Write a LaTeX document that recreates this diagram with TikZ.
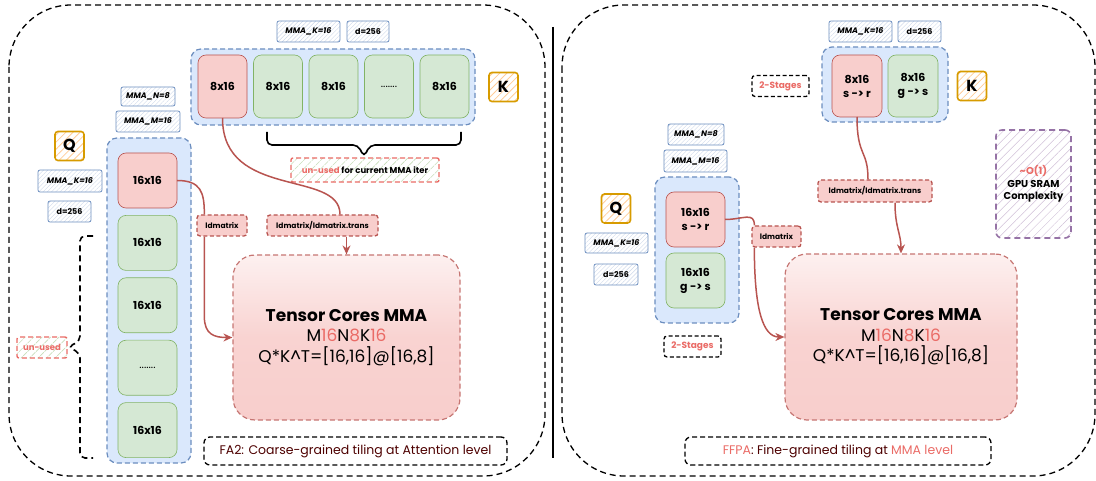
\documentclass[tikz,border=0pt]{standalone}
\usepackage{fontspec}
\setmainfont{Poppins}
\usepackage{tikz}
\usetikzlibrary{arrows.meta,positioning,patterns.meta}
\definecolor{boxblue}{HTML}{DAE8FC}
\definecolor{lineblue}{HTML}{6C8EBF}
\definecolor{cellred}{HTML}{F8CECC}
\definecolor{linered}{HTML}{B85450}
\definecolor{cellgreen}{HTML}{D5E8D4}
\definecolor{linegreen}{HTML}{82B366}
\definecolor{hotred}{HTML}{EA6B66}
\definecolor{labelorange}{HTML}{D79B00}
\definecolor{hatchorange}{HTML}{FFCC99}
\definecolor{linepurple}{HTML}{9673A6}
\definecolor{darkmaroon}{HTML}{4D0000}
\tikzstyle{panel}=[dash pattern=on 6pt off 4pt,line width=1.3pt,rounded corners=62pt]
\tikzstyle{container}=[rectangle,rounded corners=10pt,fill=boxblue,draw=lineblue,
                  dash pattern=on 5pt off 3pt,line width=1.2pt]
\tikzstyle{tile}=[rectangle,rounded corners=8pt,line width=0.6pt,inner sep=0pt,outer sep=0pt,
                  align=center,font=\bfseries\fontsize{11}{14}\selectfont]
\tikzstyle{tilered}=[tile,fill=cellred,draw=linered]
\tikzstyle{tilegreen}=[tile,fill=cellgreen,draw=linegreen]
\tikzstyle{ksize}=[minimum width=49pt,minimum height=63pt]
\tikzstyle{qsize}=[minimum width=59pt,minimum height=55pt]
\tikzstyle{tag}=[rectangle,rounded corners=2pt,draw=lineblue,line width=0.8pt,inner sep=0pt,
                  pattern={Lines[angle=45,distance=3pt,line width=0.4pt]},pattern color=lineblue!35,
                  font=\bfseries\fontsize{8}{9}\selectfont]
\tikzstyle{letter}=[rectangle,rounded corners=3pt,draw=labelorange,line width=1.6pt,inner sep=0pt,
                  pattern={Lines[angle=45,distance=5pt,line width=0.8pt]},pattern color=hatchorange,
                  minimum size=29pt,font=\bfseries\fontsize{16}{18}\selectfont]
\tikzstyle{unused}=[rectangle,rounded corners=2pt,draw=hotred,dash pattern=on 5pt off 3pt,line width=1.4pt,
                  pattern={Lines[angle=45,distance=6pt,line width=0.6pt]},pattern color=linegreen!45,
                  inner sep=0pt,font=\bfseries\fontsize{8.5}{10}\selectfont]
\tikzstyle{ldbox}=[rectangle,rounded corners=3pt,fill=cellred,draw=linered,dash pattern=on 4pt off 2.5pt,
                  line width=1.3pt,inner sep=0pt,minimum height=21pt,font=\bfseries\fontsize{7.5}{9}\selectfont]
\tikzstyle{stagebox}=[rectangle,rounded corners=3pt,fill=white,draw=black,dash pattern=on 4pt off 2.5pt,
                  line width=1.3pt,inner sep=0pt,minimum width=57pt,minimum height=21pt,text=hotred,
                  font=\bfseries\fontsize{9}{10}\selectfont]
\tikzstyle{mmacore}=[rectangle,rounded corners=22pt,top color=cellred!30,bottom color=cellred,
                  middle color=cellred!90,draw=linered!80,dash pattern=on 5pt off 3pt,line width=1.2pt,
                  align=center,font=\fontsize{17}{20.5}\selectfont]
\tikzstyle{notebox}=[rectangle,rounded corners=6pt,draw=black,dash pattern=on 5pt off 3pt,line width=1.3pt,
                  minimum height=28pt,text=darkmaroon,font=\fontsize{12.5}{14}\selectfont]
\tikzstyle{costbox}=[rectangle,rounded corners=6pt,draw=linepurple,dash pattern=on 6pt off 4pt,line width=1.6pt,
                  pattern={Lines[angle=45,distance=6pt,line width=0.5pt]},pattern color=linepurple!45,
                  align=center,font=\bfseries\fontsize{10}{12.5}\selectfont]
\tikzstyle{bracepath}=[line width=1.6pt,rounded corners=5pt]
\tikzstyle{link}=[draw=linered,line width=1.5pt]
\tikzstyle{arrow}=[link,-{Stealth[length=9pt,width=8pt]}]

\begin{document}
\begin{tikzpicture}[x=1pt,y=-1pt]
  \useasboundingbox (0,0) rectangle (1096,481);
  % panels
  \draw[panel] (9,5) rectangle (545,476);
  \draw[panel] (562,5) rectangle (1095,476);
  \draw[line width=1.5pt] (553,27) -- (553,458);

  % ---- FA2 (left) ----
  \node[container,minimum width=284pt,minimum height=76pt] (kboxL) at (333,87) {};
  \node[tilered,ksize] (kL1) at (222.5,86.5) {8x16};
  \node[tilegreen,ksize,right=6.5pt of kL1] (kL2) {8x16};
  \node[tilegreen,ksize,right=6.5pt of kL2] (kL3) {8x16};
  \node[tilegreen,ksize,right=6.5pt of kL3] (kL4) {\mdseries.......};
  \node[tilegreen,ksize,right=6.5pt of kL4] (kL5) {8x16};
  \node[tag,minimum width=63pt,minimum height=21pt] (mkL) at (308.5,31.5) {\itshape MMA\_K=16};
  \node[tag,minimum width=42pt,minimum height=21pt] (dkL) at (368,31.5) {d=256};
  \node[letter] (letKL) at (503.5,87) {K};
  \coordinate (braceKb) at (267,132);
  \draw[bracepath] (braceKb) -- ++(0,13) -- ++(91,0) -- ++(6,12) -- ++(6,-12) -- ++(91,0) -- ++(0,-13);
  \node[unused,minimum width=148pt,minimum height=24pt] (unK) at (365,170)
       {{\color{hotred}un-used} for current MMA iter};

  \node[tag,minimum width=54pt,minimum height=19pt] (mnL) at (148,96.5) {\itshape MMA\_N=8};
  \node[tag,minimum width=64pt,minimum height=21pt] (mmL) at (148,121.5) {\itshape MMA\_M=16};
  \node[letter] (letQL) at (69.5,146) {Q};
  \node[tag,minimum width=64pt,minimum height=22pt] (mqL) at (70,181) {\itshape MMA\_K=16};
  \node[tag,minimum width=43pt,minimum height=21pt] (dqL) at (69.5,211.5) {d=256};
  \node[container,minimum width=84pt,minimum height=325pt] (qboxL) at (149,300.5) {};
  \node[tilered,qsize] (qL1) at (147.5,180.5) {16x16};
  \node[tilegreen,qsize,below=7.4pt of qL1] (qL2) {16x16};
  \node[tilegreen,qsize,below=7.4pt of qL2] (qL3) {16x16};
  \node[tilegreen,qsize,below=7.4pt of qL3] (qL4) {\mdseries.......};
  \node[tilegreen,qsize,below=7.4pt of qL4] (qL5) {16x16};
  \coordinate (braceQb) at (93,236);
  \draw[bracepath,dash pattern=on 6pt off 4pt] (braceQb) -- ++(-13,0) -- ++(0,105) -- ++(-12,6)
       -- ++(12,6) -- ++(0,105) -- ++(13,0);
  \node[unused,minimum width=50pt,minimum height=21pt,text=hotred] (unQ) at (42,347.5) {un-used};

  \node[ldbox,minimum width=50pt] (ldL) at (222,225.5) {ldmatrix};
  \node[ldbox,minimum width=111pt] (ldtL) at (322.5,225.5) {ldmatrix/ldmatrix.trans};
  \node[mmacore,minimum width=227pt,minimum height=165pt] (coreL) at (346.5,337.5)
       {\bfseries Tensor Cores MMA\\
        M{\color{hotred}16}N{\color{hotred}8}K{\color{hotred}16}\\
        Q*K\textasciicircum T=[16,16]@[16,8]};
  \node[notebox,minimum width=303pt] (fa2) at (355.5,451) {FA2: Coarse-grained tiling at Attention level};

  \draw[link] (qL1.east) .. controls +(24,0) and +(0,-22) .. ([xshift=8pt]ldL.north west);
  \draw[arrow] ([xshift=8pt]ldL.south west) -- ++(0,80) .. controls +(0,18) and +(-18,0) .. (coreL.west);
  \draw[link] (kL1.south) .. controls +(0,82) and +(0,-45) .. ([xshift=17.5pt]ldtL.north);
  \draw[arrow] (coreL.north |- ldtL.south) -- (coreL.north);

  % ---- FFPA (right) ----
  \node[tag,minimum width=63pt,minimum height=21pt] (mkR) at (860.5,31.5) {\itshape MMA\_K=16};
  \node[tag,minimum width=43pt,minimum height=21pt] (dkR) at (919.5,31.5) {d=256};
  \node[container,minimum width=126pt,minimum height=75pt] (kboxR) at (885,84.5) {};
  \node[tilered,minimum width=50pt,minimum height=62pt] (kR1) at (857,86) {8x16\\s -> r};
  \node[tilegreen,minimum width=50pt,minimum height=62pt,right=6pt of kR1] (kR2) {8x16\\g -> s};
  \node[letter] (letKR) at (972,86) {K};
  \node[stagebox] (stK) at (780.5,86) {2-Stages};

  \node[tag,minimum width=56pt,minimum height=21pt] (mnR) at (696,134.5) {\itshape MMA\_N=8};
  \node[tag,minimum width=63pt,minimum height=22pt] (mmR) at (695.5,161) {\itshape MMA\_M=16};
  \node[container,minimum width=84pt,minimum height=146pt] (qboxR) at (697,250) {};
  \node[tilered,qsize] (qR1) at (695.5,219.5) {16x16\\s -> r};
  \node[tilegreen,qsize,below=6pt of qR1] (qR2) {16x16\\g -> s};
  \node[letter] (letQR) at (616,208.5) {Q};
  \node[tag,minimum width=63pt,minimum height=20pt] (mqR) at (616.5,243) {\itshape MMA\_K=16};
  \node[tag,minimum width=44pt,minimum height=21pt] (dqR) at (616,274.5) {d=256};
  \node[stagebox] (stQ) at (692.5,346.5) {2-Stages};

  \node[ldbox,minimum width=49pt] (ldR) at (776.5,236.5) {ldmatrix};
  \node[ldbox,minimum width=114pt,minimum height=22pt] (ldtR) at (875,191) {ldmatrix/ldmatrix.trans};
  \node[costbox,minimum width=75pt,minimum height=108pt] (cost) at (1033.5,184)
       {{\color{hotred}\textasciitilde O(1)}\\GPU SRAM\\Complexity};
  \node[mmacore,minimum width=232pt,minimum height=166pt] (coreR) at (901,337)
       {\bfseries Tensor Cores MMA\\
        M{\color{hotred}16}N{\color{hotred}8}K{\color{hotred}16}\\
        Q*K\textasciicircum T=[16,16]@[16,8]};
  \node[notebox,minimum width=306pt] (ffpa) at (838,451)
       {{\color{hotred}FFPA}: Fine-grained tiling at {\color{hotred}MMA level}};

  \draw[link] (qR1.east) .. controls +(18,0) and +(0,-14) .. ([xshift=3pt]ldR.north west);
  \draw[arrow] ([xshift=3pt]ldR.south west) .. controls +(0,60) and +(-22,0) .. (coreR.west);
  \draw[link] (kR1.south) .. controls +(0,40) and +(0,-30) .. ([xshift=-7pt]ldtR.north);
  \draw[arrow] ([xshift=20pt]ldtR.south) .. controls +(0,25) and +(0,-20) .. (coreR.north);
\end{tikzpicture}
\end{document}
